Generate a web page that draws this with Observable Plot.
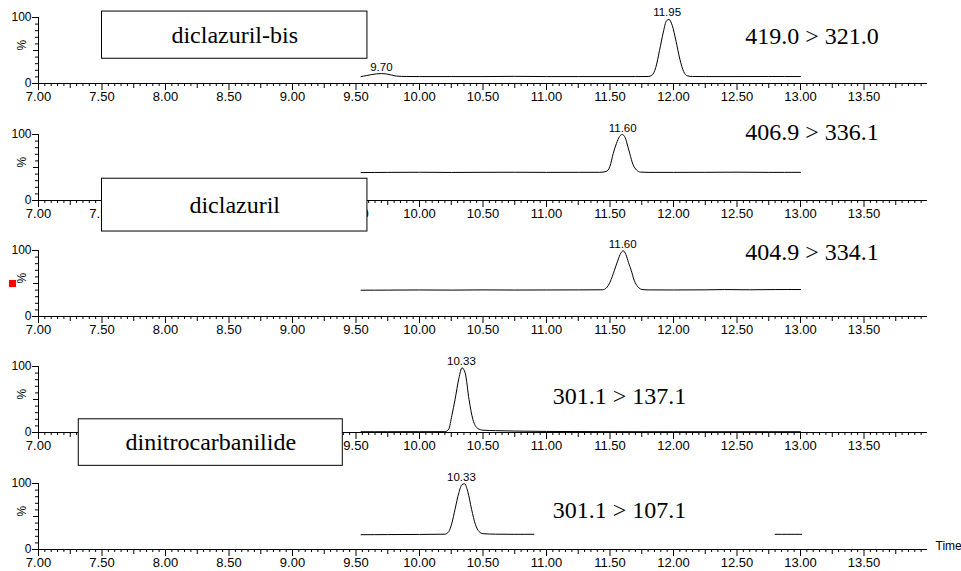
<!DOCTYPE html>
<html><head><meta charset="utf-8">
<script src="https://cdn.jsdelivr.net/npm/d3@7"></script>
<script src="https://cdn.jsdelivr.net/npm/@observablehq/plot@0.6"></script>
<style>
body{margin:0;background:#fff;}
#chart{width:961px;height:571px;position:relative;overflow:hidden;background:#fff;}
#chart svg{display:block;overflow:visible;}
</style></head><body><div id="chart"></div>
<script>
// ---- tick labels ----
const majorTicks = [7.00, 7.50, 8.00, 8.50, 9.00, 9.50, 10.00, 10.50, 11.00, 11.50, 12.00, 12.50, 13.00, 13.50];
const yLabelTicks = [0, 100];

// ---- transitions & compounds ----
const transitions = ["419.0 > 321.0", "406.9 > 336.1", "404.9 > 334.1", "301.1 > 137.1", "301.1 > 107.1"];
const compounds = ["diclazuril-bis", "diclazuril", "dinitrocarbanilide"];

// ---- traces (time, %) ----
const t1 = [9.54, 9.58, 9.62, 9.66, 9.70, 9.74, 9.78, 9.82, 9.90, 10.00, 10.25, 10.50, 10.75, 11.00, 11.25, 11.50, 11.70, 11.80, 11.83, 11.86, 11.89, 11.92, 11.945, 11.965, 11.99, 12.02, 12.05, 12.08, 12.11, 12.15, 12.25, 12.50, 12.75, 13.00];
const v1 = [10.6, 11.8, 13.4, 14.6, 15.0, 14.4, 12.8, 11.2, 10.6, 10.5, 10.5, 10.5, 10.8, 10.5, 10.5, 10.5, 10.5, 10.6, 12.5, 24, 50, 78, 95, 97, 88, 64, 37, 18, 11.5, 10.6, 10.5, 10.5, 10.6, 10.5];

const t2 = [9.54, 9.75, 10.00, 10.25, 10.50, 10.75, 11.00, 11.25, 11.42, 11.47, 11.50, 11.525, 11.55, 11.575, 11.596, 11.62, 11.64, 11.656, 11.68, 11.71, 11.74, 11.80, 12.00, 12.25, 12.50, 12.75, 13.00];
const v2 = [42.3, 42.6, 42.8, 42.5, 42.7, 42.8, 42.6, 42.7, 42.7, 44, 52, 71, 86, 97, 100, 95, 82, 71, 55, 46, 43, 42.6, 42.6, 42.7, 42.9, 42.6, 42.7];

const t3 = [9.54, 9.75, 10.00, 10.25, 10.50, 10.75, 11.00, 11.25, 11.44, 11.47, 11.50, 11.535, 11.56, 11.585, 11.604, 11.625, 11.645, 11.667, 11.69, 11.72, 11.75, 11.80, 12.00, 12.25, 12.40, 12.60, 12.80, 13.00];
const v3 = [39.8, 40.0, 40.2, 40.0, 40.3, 40.1, 40.2, 40.3, 40.5, 43, 52, 70, 84, 96, 99.5, 94, 82, 70, 55, 45, 41, 40.3, 40.2, 40.4, 40.8, 40.5, 40.8, 40.9];

const t4 = [9.54, 9.75, 10.00, 10.20, 10.23, 10.255, 10.28, 10.31, 10.335, 10.36, 10.39, 10.42, 10.46, 10.50, 10.60, 10.75, 11.00, 11.50, 12.00, 12.50, 13.00];
const v4 = [1.2, 1.2, 1.2, 1.3, 5, 26, 50, 82, 98, 90, 50, 20, 6, 3.5, 2.8, 2.2, 1.6, 1.3, 1.2, 1.2, 1.2];

const t5a = [9.54, 9.75, 10.00, 10.20, 10.23, 10.255, 10.28, 10.31, 10.335, 10.355, 10.38, 10.41, 10.44, 10.47, 10.50, 10.60, 10.75, 10.90];
const v5a = [22.4, 22.6, 22.8, 23.2, 27, 40, 61, 86, 98.5, 99.5, 88, 61, 38, 27, 24, 23.2, 23.0, 23.1];
const t5b = [12.80, 12.90, 13.01];
const v5b = [23.0, 23.0, 23.0];

// ---- peak labels ----
const peak1 = [{t: 11.95, v: 97, label: "11.95"}, {t: 9.70, v: 15, label: "9.70"}];
const peak2 = [{t: 11.60, v: 100, label: "11.60"}];
const peak3 = [{t: 11.60, v: 99.5, label: "11.60"}];
const peak4 = [{t: 10.33, v: 98, label: "10.33"}];
const peak5 = [{t: 10.33, v: 99.5, label: "10.33"}];

const zipTV = (t, v) => t.map((d, i) => ({t: d, v: v[i]}));

const minorX = d3.range(140, 280, 1).map(i => i / 20).filter(d => Math.round(d * 100) % 25 !== 0);
const midX = d3.range(29, 56, 2).map(i => i / 4);
const minorY = [10, 20, 30, 40, 60, 70, 80, 90];

const SANS = "'Liberation Sans', Arial, Helvetica, sans-serif";
const SERIF = "'Liberation Serif', 'Times New Roman', serif";

function panel(cfg) {
  const h = cfg.height;
  const hidden = cfg.hiddenLabels || [];
  const labelTicks = majorTicks.filter(d => !hidden.includes(d));
  const marks = [
    Plot.ruleY([0], {x1: 7, x2: 14, stroke: "black", strokeWidth: 1}),
    Plot.ruleX([7], {y1: 0, y2: 100, stroke: "black", strokeWidth: 1}),
    Plot.axisX(minorX, {tickSize: 3, fill: "none", label: null, stroke: "black"}),
    Plot.axisX(midX, {tickSize: 5, fill: "none", label: null, stroke: "black"}),
    Plot.axisX(majorTicks, {tickSize: 7, fill: "none", label: null, stroke: "black"}),
    Plot.axisX(labelTicks, {tickSize: 0, tickPadding: 8, tickFormat: d3.format(".2f"), fontSize: 13, fontFamily: SANS, label: null, fill: "black"}),
    Plot.axisY(minorY, {tickSize: 3, fill: "none", label: null, stroke: "black"}),
    Plot.axisY([50], {tickSize: 5, fill: "none", label: null, stroke: "black"}),
    Plot.axisY(yLabelTicks, {tickSize: 6, tickPadding: 1, fontSize: 12, fontFamily: SANS, label: null, stroke: "black", fill: "black"}),
    Plot.text(["%"], {frameAnchor: "left", y: 50, dx: -16, rotate: -90, fontSize: 12, fontFamily: SANS, fill: "black"}),
  ];
  for (const seg of cfg.segs) {
    marks.push(Plot.line(seg, {x: "t", y: "v", curve: "monotone-x", stroke: "black", strokeWidth: 1}));
  }
  marks.push(Plot.text(cfg.peaks, {x: "t", y: "v", text: "label", dy: -3, lineAnchor: "bottom", fontSize: 11.5, fontFamily: SANS, fill: "black"}));
  marks.push(Plot.text([cfg.trans], {x: cfg.trans.x, y: cfg.trans.y, text: d => d.label, fontSize: 24, fontFamily: SERIF, fill: "black"}));
  if (cfg.box) {
    const b = cfg.box;
    marks.push(Plot.rect([b], {x1: "x1", x2: "x2", y1: "y1", y2: "y2", fill: "white", stroke: "black", strokeWidth: 1}));
    marks.push(Plot.text([b], {x: d => (d.x1 + d.x2) / 2, y: d => (d.y1 + d.y2) / 2, text: "label", fontSize: 24, fontFamily: SERIF, fill: "black"}));
  }
  if (cfg.extra) marks.push(...cfg.extra);
  return Plot.plot({
    width: 961, height: h,
    marginLeft: 38, marginRight: 34, marginTop: 17, marginBottom: h - 83,
    x: {domain: [7, 14], label: null},
    y: {domain: [0, 100], label: null},
    style: {fontFamily: SANS, background: "white", color: "black", overflow: "visible"},
    marks
  });
}

const chart = document.getElementById("chart");
const panels = [
  {height: 117, segs: [zipTV(t1, v1)], peaks: peak1,
   trans: {label: transitions[0], x: 13.09, y: 72},
   box: {label: compounds[0], x1: 7.50, x2: 9.59, y1: 37.5, y2: 109}},
  {height: 116, segs: [zipTV(t2, v2)], peaks: peak2, hiddenLabels: [8.00, 8.50, 9.00],
   trans: {label: transitions[1], x: 13.09, y: 104},
   box: {label: compounds[1], x1: 7.50, x2: 9.59, y1: -47, y2: 33}},
  {height: 116, segs: [zipTV(t3, v3)], peaks: peak3,
   trans: {label: transitions[2], x: 13.09, y: 98},
   extra: [Plot.dot([0], {frameAnchor: "left", y: 50, dx: -26, symbol: "square", r: 4, fill: "#ff0000", stroke: null})]},
  {height: 117, segs: [zipTV(t4, v4)], peaks: peak4, hiddenLabels: [7.50, 8.00, 8.50, 9.00],
   trans: {label: transitions[3], x: 11.575, y: 55},
   box: {label: compounds[2], x1: 7.317, x2: 9.396, y1: -50.5, y2: 20}},
  {height: 105, segs: [zipTV(t5a, v5a), zipTV(t5b, v5b)], peaks: peak5,
   trans: {label: transitions[4], x: 11.575, y: 59},
   extra: [Plot.text(["Time"], {frameAnchor: "bottom-right", dx: 8, textAnchor: "start", fontSize: 12, fontFamily: SANS, fill: "black"})]}
];
for (const p of panels) chart.appendChild(panel(p));
</script>
</body></html>
